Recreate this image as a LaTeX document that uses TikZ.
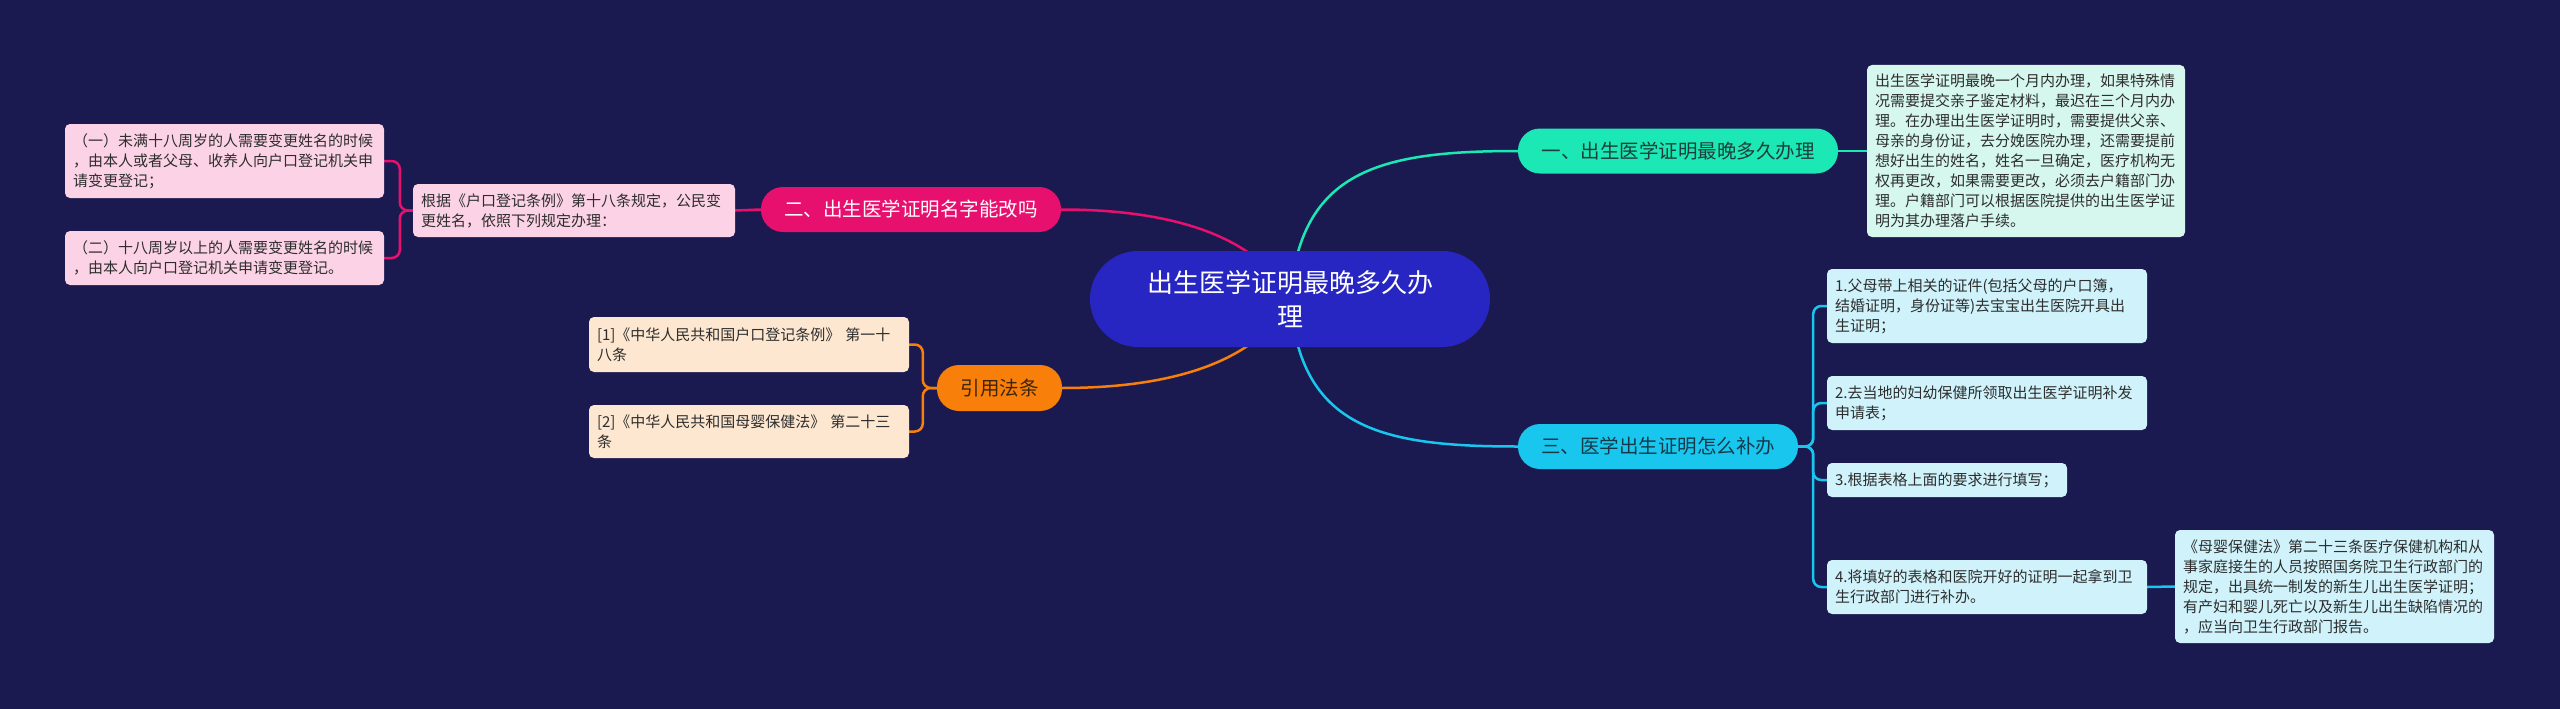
\documentclass[tikz,border=0pt]{standalone}
\usepackage{fontspec}
\setmainfont{Noto Sans CJK SC}
\usetikzlibrary{calc,backgrounds}
\definecolor{bg}{HTML}{1B1A50}
\definecolor{ctr}{HTML}{2826C2}
\definecolor{mint}{HTML}{1BE8B4}
\definecolor{mintleaf}{HTML}{D6F7EE}
\definecolor{mag}{HTML}{E8106E}
\definecolor{pinkleaf}{HTML}{FCD3E6}
\definecolor{orng}{HTML}{F77F0A}
\definecolor{peach}{HTML}{FDE7D0}
\definecolor{cyn}{HTML}{18C6EE}
\definecolor{cynleaf}{HTML}{CFF2FB}
\definecolor{leaftext}{HTML}{2D2D2D}
\definecolor{darkteal}{HTML}{1F3D3A}
\definecolor{darkcyan}{HTML}{163A4A}
\definecolor{darkbrown}{HTML}{3E2408}
\begin{document}
\begin{tikzpicture}[x=1pt,y=-1pt,
  leafbox/.style={rounded corners=5pt, inner xsep=8pt, inner ysep=0pt, align=left,
    font=\fontsize{15}{20}\selectfont, text=leaftext},
  branch/.style={rounded corners=22pt, minimum height=45pt, inner sep=0pt,
    font=\fontsize{19.5}{24}\selectfont, align=center},
  conn/.style={line width=2.5pt},
  bracket/.style={line width=2.5pt, rounded corners=8pt}]
\useasboundingbox (0,0) rectangle (2560,709);

% central
\node[fill=ctr, rounded corners=48pt, minimum width=400pt, minimum height=96pt, inner sep=0pt,
  text=white, align=center, font=\fontsize{26}{34}\selectfont] (c) at (1290,299)
  {出生医学证明最晚多久办\\理};

% branches
\node[branch, fill=mint, text=darkteal, minimum width=320pt] (b1) at (1678,151) {一、出生医学证明最晚多久办理};
\node[branch, fill=mag, text=white, minimum width=300pt] (b2) at (911,209.5) {二、出生医学证明名字能改吗};
\node[branch, fill=cyn, text=darkcyan, minimum width=280pt] (b3) at (1658,446.5) {三、医学出生证明怎么补办};
\node[branch, fill=orng, text=darkbrown, minimum width=125pt, minimum height=46pt] (b4) at (999.5,388) {引用法条};

% leaves of b1
\node[leafbox, fill=mintleaf, text width=302pt, minimum height=172pt] (l1) at (2026,151)
  {出生医学证明最晚一个月内办理，如果特殊情\\况需要提交亲子鉴定材料，最迟在三个月内办\\理。在办理出生医学证明时，需要提供父亲、\\母亲的身份证，去分娩医院办理，还需要提前\\想好出生的姓名，姓名一旦确定，医疗机构无\\权再更改，如果需要更改，必须去户籍部门办\\理。户籍部门可以根据医院提供的出生医学证\\明为其办理落户手续。};

% leaves of b3
\node[leafbox, fill=cynleaf, text width=304pt, minimum height=74pt] (s1) at (1987,306)
  {1.父母带上相关的证件(包括父母的户口簿，\\结婚证明，身份证等)去宝宝出生医院开具出\\生证明；};
\node[leafbox, fill=cynleaf, text width=304pt, minimum height=54pt] (s2) at (1987,403)
  {2.去当地的妇幼保健所领取出生医学证明补发\\申请表；};
\node[leafbox, fill=cynleaf, text width=224pt, minimum height=34pt] (s3) at (1947,480)
  {3.根据表格上面的要求进行填写；};
\node[leafbox, fill=cynleaf, text width=304pt, minimum height=54pt] (s4) at (1987,587)
  {4.将填好的表格和医院开好的证明一起拿到卫\\生行政部门进行补办。};
\node[leafbox, fill=cynleaf, text width=303pt, minimum height=113pt] (s5) at (2334.5,586.5)
  {《母婴保健法》第二十三条医疗保健机构和从\\事家庭接生的人员按照国务院卫生行政部门的\\规定，出具统一制发的新生儿出生医学证明；\\有产妇和婴儿死亡以及新生儿出生缺陷情况的\\，应当向卫生行政部门报告。};

% leaves of b2
\node[leafbox, fill=pinkleaf, text width=306pt, minimum height=53pt] (t2) at (574,210.5)
  {根据《户口登记条例》第十八条规定，公民变\\更姓名，依照下列规定办理：};
\node[leafbox, fill=pinkleaf, text width=303pt, minimum height=74pt] (p1) at (224.5,161)
  {（一）未满十八周岁的人需要变更姓名的时候\\，由本人或者父母、收养人向户口登记机关申\\请变更登记；};
\node[leafbox, fill=pinkleaf, text width=303pt, minimum height=54pt] (p2) at (224.5,258)
  {（二）十八周岁以上的人需要变更姓名的时候\\，由本人向户口登记机关申请变更登记。};

% leaves of b4
\node[leafbox, fill=peach, text width=304pt, minimum height=55pt] (r1) at (749,344.5)
  {[1]《中华人民共和国户口登记条例》 第一十\\八条};
\node[leafbox, fill=peach, text width=304pt, minimum height=53pt] (r2) at (749,431.5)
  {[2]《中华人民共和国母婴保健法》 第二十三\\条};

\begin{pgfonlayer}{background}
\fill[bg] (0,0) rectangle (2560,709);
% main curves
\draw[conn, mint] (c.center) .. controls ($(c.center)+(10,-129)$) and ($(b1.west)+(-138,0)$) .. (b1.west);
\draw[conn, mag] (c.center) .. controls ($(c.center)+(-30,-59)$) and ($(b2.east)+(119,0)$) .. (b2.east);
\draw[conn, orng] (c.center) .. controls ($(c.center)+(-30,59)$) and ($(b4.east)+(118,0)$) .. (b4.east);
\draw[conn, cyn] (c.center) .. controls ($(c.center)+(10,129)$) and ($(b3.west)+(-138,0)$) .. (b3.west);
% sub connectors
\draw[conn, mint] (b1.east) -- (l1.west);
\draw[bracket, cyn] (b3.east) -- ++(15,0) |- (s1.west);
\draw[bracket, cyn] (b3.east) -- ++(15,0) |- (s2.west);
\draw[bracket, cyn] (b3.east) -- ++(15,0) |- (s3.west);
\draw[bracket, cyn] (b3.east) -- ++(15,0) |- (s4.west);
\draw[conn, cyn] (s4.east) -- (s5.west);
\draw[conn, mag] (b2.west) -- (t2.east);
\draw[bracket, mag] (t2.west) -- ++(-13,0) |- (p1.east);
\draw[bracket, mag] (t2.west) -- ++(-13,0) |- (p2.east);
\draw[bracket, orng] (b4.west) -- ++(-14,0) |- (r1.east);
\draw[bracket, orng] (b4.west) -- ++(-14,0) |- (r2.east);
\end{pgfonlayer}
\end{tikzpicture}
\end{document}
